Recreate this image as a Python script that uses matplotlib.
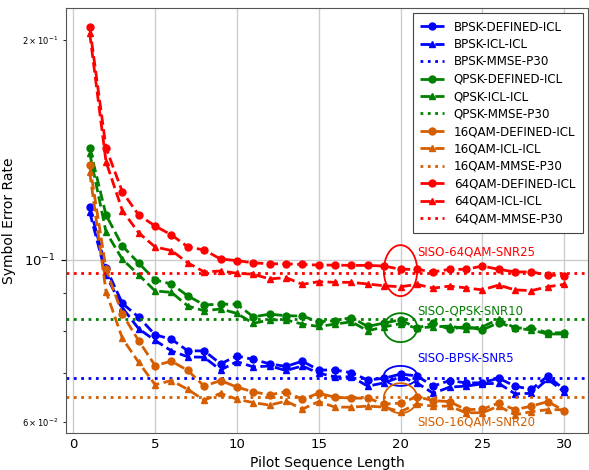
import numpy as np
import matplotlib
matplotlib.use("Agg")
import matplotlib.pyplot as plt

# pilot sequence lengths
pilots = list(range(1, 31))

# symbol error rates
bpsk_defined = [0.1181, 0.0975, 0.0872, 0.0835, 0.0790, 0.0779, 0.0751, 0.0751, 0.0721, 0.0739,
                0.0731, 0.0721, 0.0715, 0.0727, 0.0707, 0.0707, 0.0701, 0.0685, 0.0689, 0.0698,
                0.0694, 0.0672, 0.0684, 0.0679, 0.0679, 0.0689, 0.0672, 0.0665, 0.0694, 0.0665]
bpsk_icl = [0.1163, 0.0954, 0.0860, 0.0805, 0.0776, 0.0751, 0.0737, 0.0736, 0.0707, 0.0726,
            0.0714, 0.0716, 0.0706, 0.0716, 0.0700, 0.0692, 0.0692, 0.0672, 0.0679, 0.0692,
            0.0679, 0.0657, 0.0670, 0.0672, 0.0677, 0.0678, 0.0656, 0.0657, 0.0687, 0.0660]
bpsk_mmse = 0.0690

qpsk_defined = [0.1424, 0.1152, 0.1045, 0.0990, 0.0939, 0.0927, 0.0893, 0.0868, 0.0870, 0.0870,
                0.0836, 0.0843, 0.0839, 0.0838, 0.0823, 0.0826, 0.0834, 0.0811, 0.0820, 0.0828,
                0.0807, 0.0819, 0.0804, 0.0811, 0.0802, 0.0821, 0.0807, 0.0807, 0.0795, 0.0795]
qpsk_icl = [0.1400, 0.1092, 0.1002, 0.0954, 0.0907, 0.0903, 0.0865, 0.0852, 0.0857, 0.0845,
            0.0819, 0.0828, 0.0828, 0.0817, 0.0811, 0.0817, 0.0823, 0.0800, 0.0810, 0.0818,
            0.0807, 0.0810, 0.0812, 0.0805, 0.0810, 0.0830, 0.0807, 0.0802, 0.0792, 0.0792]
qpsk_mmse = 0.0830

qam16_defined = [0.1349, 0.0971, 0.0843, 0.0775, 0.0717, 0.0727, 0.0706, 0.0672, 0.0684, 0.0670,
                 0.0660, 0.0654, 0.0660, 0.0645, 0.0657, 0.0649, 0.0647, 0.0647, 0.0635, 0.0637,
                 0.0650, 0.0642, 0.0640, 0.0624, 0.0625, 0.0637, 0.0624, 0.0631, 0.0640, 0.0622]
qam16_icl = [0.1319, 0.0905, 0.0781, 0.0724, 0.0675, 0.0684, 0.0665, 0.0643, 0.0657, 0.0645,
             0.0638, 0.0633, 0.0641, 0.0625, 0.0640, 0.0629, 0.0629, 0.0631, 0.0629, 0.0620,
             0.0635, 0.0631, 0.0631, 0.0618, 0.0618, 0.0631, 0.0614, 0.0620, 0.0624, 0.0624]
qam16_mmse = 0.0650

qam64_defined = [0.2083, 0.1423, 0.1239, 0.1152, 0.1113, 0.1082, 0.1042, 0.1032, 0.1003, 0.0998,
                 0.0991, 0.0988, 0.0988, 0.0986, 0.0984, 0.0984, 0.0983, 0.0983, 0.0981, 0.0971,
                 0.0971, 0.0963, 0.0971, 0.0971, 0.0981, 0.0971, 0.0963, 0.0963, 0.0954, 0.0951]
qam64_icl = [0.2044, 0.1362, 0.1168, 0.1089, 0.1042, 0.1030, 0.0991, 0.0963, 0.0966, 0.0959,
             0.0956, 0.0942, 0.0946, 0.0926, 0.0934, 0.0932, 0.0932, 0.0927, 0.0922, 0.0919,
             0.0926, 0.0915, 0.0921, 0.0916, 0.0910, 0.0924, 0.0910, 0.0908, 0.0919, 0.0926]
qam64_mmse = 0.0961

# annotation labels, the point they mark and the ellipse half-height (decades)
notes = ["SISO-BPSK-SNR5", "SISO-QPSK-SNR10", "SISO-16QAM-SNR20", "SISO-64QAM-SNR25"]
note_centers = [0.0694, 0.0808, 0.0647, 0.0967]
note_half_h = [0.0137, 0.0198, 0.0205, 0.0349]
note_text_y = [0.0732, 0.0852, 0.0600, 0.1025]

blue, green, orange, red = "blue", "green", "#d55e00", "red"

fig = plt.figure(figsize=(5.89, 4.70), dpi=100)
ax = fig.add_axes([0.112, 0.079, 0.886, 0.904])

groups = [("BPSK", bpsk_defined, bpsk_icl, bpsk_mmse, blue),
          ("QPSK", qpsk_defined, qpsk_icl, qpsk_mmse, green),
          ("16QAM", qam16_defined, qam16_icl, qam16_mmse, orange),
          ("64QAM", qam64_defined, qam64_icl, qam64_mmse, red)]

for name, defined, icl, mmse, col in groups:
    ax.plot(pilots, defined, "--", marker="o", color=col, lw=2, ms=5,
            label=name + "-DEFINED-ICL")
    ax.plot(pilots, icl, "--", marker="^", color=col, lw=2, ms=5,
            label=name + "-ICL-ICL")
    ax.axhline(mmse, ls=":", color=col, lw=2, label=name + "-MMSE-P30")

ax.set_yscale("log")
ax.set_xlim(-0.45, 31.45)
ax.set_ylim(0.0580, 0.2212)

# ellipses around pilot length 20 and their captions
t = np.linspace(0, 2 * np.pi, 200)
note_cols = [blue, green, orange, red]
for lab, yc, hh, ty, col in zip(notes, note_centers, note_half_h, note_text_y, note_cols):
    ax.plot(20 + 1.02 * np.cos(t), yc * 10 ** (hh * np.sin(t)), color=col, lw=1.3)
    ax.text(21.0, ty, lab, color=col, fontsize=8.5, va="center", ha="left")

ax.grid(True, which="major", color="#cccccc", lw=1)
ax.set_xlabel("Pilot Sequence Length", fontsize=10, labelpad=3)
ax.set_ylabel("Symbol Error Rate", fontsize=10)
ax.tick_params(axis="x", which="major", labelsize=9.5, length=0, pad=4)
ax.tick_params(axis="y", which="major", labelsize=9.5)
ax.tick_params(axis="y", which="minor", labelsize=6)
for sp in ax.spines.values():
    sp.set_color("#555555")

leg = ax.legend(loc="upper right", fontsize=8.6, fancybox=False, edgecolor="#444444",
                framealpha=1, borderaxespad=0.4, borderpad=0.65, labelspacing=0.37)
leg.get_frame().set_linewidth(0.8)

fig.savefig("out.png", dpi=100)
